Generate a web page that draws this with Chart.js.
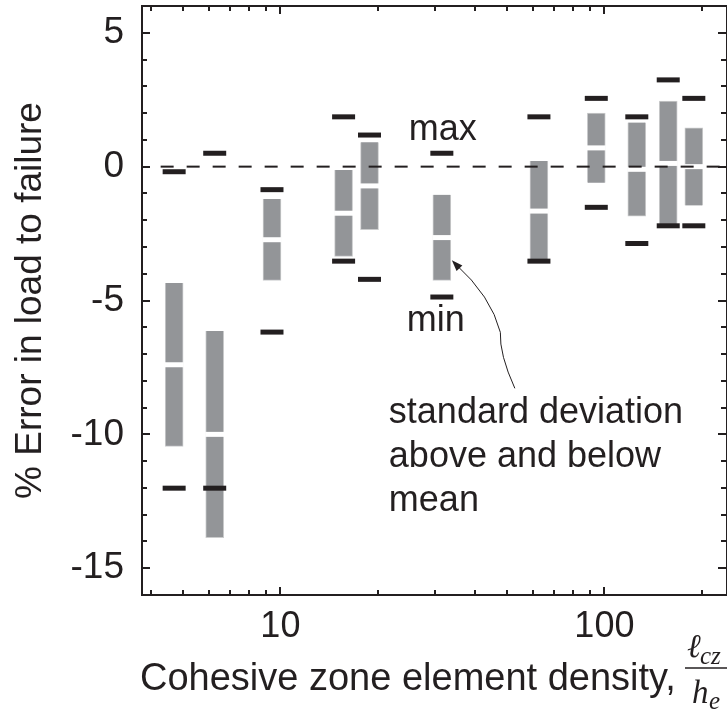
<!DOCTYPE html>
<html>
<head>
<meta charset="utf-8">
<title>Error in load to failure vs cohesive zone element density</title>
<script src="https://cdn.jsdelivr.net/npm/chart.js@4.4.1/dist/chart.umd.min.js"></script>
<style>
  html, body { margin: 0; padding: 0; background: #fff; }
  #wrap { width: 727px; height: 714px; }
</style>
</head>
<body>
<div id="wrap"><canvas id="errChart" width="727" height="714"></canvas></div>
<script>
var INK = '#231f20';
var BOX = '#939598';
var FONT = '"Liberation Sans", Arial, sans-serif';

// element density l_cz / h_e for each run set
var density = [4.70, 6.27, 9.42, 15.67, 18.84, 31.5, 62.8, 94.4, 125.9, 157.4, 188.8];
// % error in load to failure
var meanErr = [-7.40, -10.00, -2.73, -1.74, -0.72, -2.65, -1.66, 0.70, -0.10, 0.12, 0.00];
var stdDev  = [3.05, 3.86, 1.52, 1.61, 1.63, 1.60, 1.87, 1.30, 1.75, 2.33, 1.45];
var maxErr  = [-0.19, 0.50, -0.86, 1.86, 1.18, 0.50, 1.86, 2.55, 1.86, 3.24, 2.55];
var minErr  = [-12.01, -12.01, -6.18, -3.53, -4.21, -4.87, -3.53, -1.52, -2.87, -2.21, -2.21];

var xTickLabels = [10, 100];
var xMinorTicks = [4, 5, 6, 7, 8, 9, 20, 30, 40, 50, 60, 70, 80, 90, 200];
var yTickLabels = [-15, -10, -5, 0, 5];

function pts(ys) {
	return density.map(function(x, i) { return {x: x, y: ys[i]}; });
}

// frame with inward ticks on all four sides, notes and the x axis title
var decorations = {
	id: 'decorations',
	afterDraw: function(chart) {
		var ctx = chart.ctx, a = chart.chartArea;
		var xs = chart.scales.x, ys = chart.scales.y;
		ctx.save();
		ctx.strokeStyle = INK;
		ctx.fillStyle = INK;
		ctx.lineWidth = 2;
		ctx.strokeRect(a.left, a.top, a.right - a.left, a.bottom - a.top);

		ctx.beginPath();
		xTickLabels.concat(xMinorTicks).forEach(function(v) {
			var px = Math.round(xs.getPixelForValue(v));
			var len = xTickLabels.indexOf(v) >= 0 ? 8 : 5;
			ctx.moveTo(px, a.bottom); ctx.lineTo(px, a.bottom - len);
			ctx.moveTo(px, a.top); ctx.lineTo(px, a.top + len);
		});
		for (var v = -15; v <= 5; v++) {
			var py = Math.round(ys.getPixelForValue(v));
			var len = v % 5 === 0 ? 8 : 5;
			ctx.moveTo(a.left, py); ctx.lineTo(a.left + len, py);
			ctx.moveTo(a.right, py); ctx.lineTo(a.right - len - 1, py);
		}
		ctx.stroke();

		// notes next to the 31.5 run set
		var cx = xs.getPixelForValue(density[5]);
		ctx.font = '36px ' + FONT;
		ctx.textAlign = 'center';
		ctx.textBaseline = 'alphabetic';
		ctx.fillText('max', cx + 1, ys.getPixelForValue(maxErr[5]) - 13);
		ctx.fillText('min', cx - 6, ys.getPixelForValue(minErr[5]) + 34);
		ctx.textAlign = 'left';
		var tx0 = cx - 53, ty0 = ys.getPixelForValue(-10) - 11;
		['standard deviation', 'above and below', 'mean'].forEach(function(s, i) {
			ctx.fillText(s, tx0, ty0 + i * 44);
		});

		// curved pointer to the deviation band
		var tipX = cx + 10, tipY = ys.getPixelForValue(-3.5);
		ctx.lineWidth = 1;
		ctx.beginPath();
		ctx.moveTo(tipX + 63, tipY + 128);
		ctx.quadraticCurveTo(tipX + 47.5, tipY + 94, tipX + 48.5, tipY + 72);
		ctx.quadraticCurveTo(tipX + 39.5, tipY + 36, tipX + 3, tipY + 3);
		ctx.stroke();
		var ang = Math.atan2(-14, -13.5);
		ctx.beginPath();
		ctx.moveTo(tipX, tipY);
		ctx.lineTo(tipX - 11 * Math.cos(ang) + 4 * Math.sin(ang), tipY - 11 * Math.sin(ang) - 4 * Math.cos(ang));
		ctx.lineTo(tipX - 11 * Math.cos(ang) - 4 * Math.sin(ang), tipY - 11 * Math.sin(ang) + 4 * Math.cos(ang));
		ctx.closePath();
		ctx.fill();

		// x axis title with l_cz / h_e fraction
		ctx.font = '38px ' + FONT;
		ctx.fillText('Cohesive zone element density,', 140, 690);
		var fx = 685;
		ctx.lineWidth = 1.5;
		ctx.beginPath();
		ctx.moveTo(fx, 668); ctx.lineTo(fx + 50, 668);
		ctx.stroke();
		ctx.font = 'italic 33px "Liberation Serif", serif';
		ctx.fillText('\u2113', fx + 2, 657);
		ctx.fillText('h', fx + 7, 703);
		ctx.font = 'italic 25px "Liberation Serif", serif';
		ctx.fillText('cz', fx + 15, 664);
		ctx.fillText('e', fx + 24, 709);
		ctx.restore();
	}
};

var chart = new Chart(document.getElementById('errChart'), {
	type: 'bar',
	data: {
		datasets: [
			{
				type: 'scatter',
				label: 'max',
				data: pts(maxErr),
				pointStyle: 'line',
				pointRadius: 11.5,
				pointBorderWidth: 5,
				borderColor: INK
			},
			{
				type: 'scatter',
				label: 'min',
				data: pts(minErr),
				pointStyle: 'line',
				pointRadius: 11.5,
				pointBorderWidth: 5,
				borderColor: INK
			},
			{
				type: 'line',
				label: 'zero',
				data: [{x: 4.27, y: 0}, {x: 239, y: 0}],
				borderColor: INK,
				borderWidth: 2,
				borderDash: [13, 13],
				pointRadius: 0
			},
			{
				type: 'scatter',
				label: 'mean',
				data: pts(meanErr),
				pointStyle: 'line',
				pointRadius: 9.5,
				pointBorderWidth: 5,
				borderColor: '#ffffff'
			},
			{
				type: 'bar',
				label: 'std dev',
				data: density.map(function(x, i) {
					return {x: x, y: [meanErr[i] - stdDev[i], meanErr[i] + stdDev[i]]};
				}),
				backgroundColor: BOX,
				borderColor: '#cbcccd',
				borderWidth: 1,
				barThickness: 18
			}
		]
	},
	options: {
		responsive: false,
		animation: false,
		events: [],
		layout: { autoPadding: false, padding: { top: 6, right: -2, left: 0, bottom: 0 } },
		plugins: { legend: { display: false }, tooltip: { enabled: false } },
		scales: {
			x: {
				type: 'logarithmic',
				min: 3.74,
				max: 239,
				offset: false,
				grid: { display: false, drawTicks: false },
				border: { display: false },
				afterBuildTicks: function(s) {
					s.ticks = xTickLabels.map(function(v) { return {value: v}; });
				},
				afterFit: function(s) {
					s.height = 119;
					s.paddingLeft = 0; s.paddingRight = 0;
				},
				ticks: {
					autoSkip: false,
					maxRotation: 0,
					padding: 10,
					color: INK,
					font: { family: FONT, size: 36 },
					callback: function(v) { return String(v); }
				}
			},
			y: {
				min: -16,
				max: 6,
				grid: { display: false, drawTicks: false },
				border: { display: false },
				afterBuildTicks: function(s) {
					s.ticks = yTickLabels.map(function(v) { return {value: v}; });
				},
				afterFit: function(s) {
					s.width = 142;
					s.paddingTop = 0; s.paddingBottom = 0;
				},
				ticks: {
					padding: 18,
					color: INK,
					font: { family: FONT, size: 37 },
					callback: function(v) { return String(v); }
				},
				title: {
					display: true,
					text: '% Error in load to failure',
					color: INK,
					font: { family: FONT, size: 37 },
					padding: { top: 9, bottom: 0 }
				}
			}
		}
	},
	plugins: [decorations]
});
</script>
</body>
</html>
